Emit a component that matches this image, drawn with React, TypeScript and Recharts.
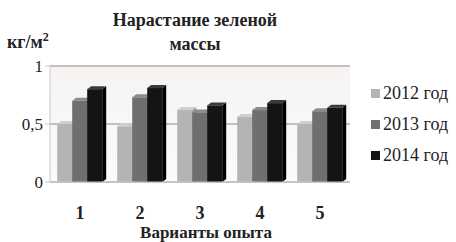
import React from "react"
import { Bar, BarChart, CartesianGrid, XAxis, YAxis } from "recharts"

const variants = ["1", "2", "3", "4", "5"]
const y2012 = [0.5, 0.48, 0.62, 0.56, 0.5]
const y2013 = [0.7, 0.73, 0.6, 0.62, 0.61]
const y2014 = [0.8, 0.81, 0.66, 0.68, 0.64]
const yTicks = [0, 0.5, 1]

const series = [
  { key: "y2012", name: "2012 год", fill: "#b4b4b4", side: "#9a9a9a", top: "#cfcfcf" },
  { key: "y2013", name: "2013 год", fill: "#6f6f6f", side: "#555555", top: "#8c8c8c" },
  { key: "y2014", name: "2014 год", fill: "#141414", side: "#000000", top: "#3a3a3a" },
]

const data = variants.map((v, i) => ({ v, y2012: y2012[i], y2013: y2013[i], y2014: y2014[i] }))

const serif = "'Liberation Serif', 'DejaVu Serif', serif"

function Bar3D(props: any) {
  const { x, y, width, height, fill, side, top } = props
  if (!height || height <= 0) return null
  const dx = 4
  const dy = 3
  return (
    <g>
      <path d={`M${x + width},${y} L${x + width + dx},${y - dy} L${x + width + dx},${y + height - dy} L${x + width},${y + height} Z`} fill={side} />
      <path d={`M${x},${y} L${x + dx},${y - dy} L${x + width + dx},${y - dy} L${x + width},${y} Z`} fill={top} />
      <rect x={x} y={y} width={width} height={height} fill={fill} />
    </g>
  )
}

export default function App() {
  return (
    <div style={{ position: "absolute", left: 0, top: 0, width: 456, height: 242, background: "#fff", fontFamily: serif }}>
      <div style={{ position: "absolute", left: 95, width: 200, top: 8, textAlign: "center", fontWeight: "bold", fontSize: 18, lineHeight: "24px", color: "#222" }}>
        Нарастание зеленой<br />массы
      </div>
      <div style={{ position: "absolute", left: 7, top: 30, fontWeight: "bold", fontSize: 18, color: "#222" }}>
        кг/м<sup style={{ fontSize: 12 }}>2</sup>
      </div>
      <div style={{ position: "absolute", left: 106, width: 200, top: 223, textAlign: "center", fontWeight: "bold", fontSize: 17, color: "#222" }}>
        Варианты опыта
      </div>
      <div style={{ position: "absolute", left: 371, top: 78, fontSize: 18, color: "#222" }}>
        {series.map((s) => (
          <div key={s.key} style={{ display: "flex", alignItems: "center", height: 31 }}>
            <span style={{ width: 9, height: 9, background: s.fill, display: "inline-block", marginRight: 3 }} />
            <span>{s.name}</span>
          </div>
        ))}
      </div>
      <BarChart
        width={456}
        height={242}
        data={data}
        margin={{ top: 66, right: 106, bottom: 30, left: 0 }}
        barCategoryGap="12%"
        barGap={0}
      >
        <defs>
          <linearGradient id="wall" x1="0" y1="0" x2="0" y2="1">
            <stop offset="0%" stopColor="#f6f3f3" />
            <stop offset="100%" stopColor="#fbfbfc" />
          </linearGradient>
        </defs>
        <CartesianGrid vertical={false} stroke="#b9aca6" strokeWidth={1.5} fill="url(#wall)" />
        <XAxis
          dataKey="v"
          tickLine={false}
          axisLine={{ stroke: "#c8c8c8" }}
          tick={{ fontFamily: serif, fontSize: 18, fontWeight: "bold", fill: "#222" }}
          tickMargin={18}
        />
        <YAxis
          width={50}
          domain={[0, 1]}
          ticks={yTicks}
          axisLine={{ stroke: "#c8c8c8" }}
          tickLine={{ stroke: "#c8c8c8" }}
          tickSize={5}
          tick={{ fontFamily: serif, fontSize: 17, fill: "#222" }}
          tickFormatter={(t) => String(t).replace(".", ",")}
        />
        {series.map((s) => (
          <Bar
            key={s.key}
            dataKey={s.key}
            name={s.name}
            fill={s.fill}
            isAnimationActive={false}
            shape={(p: any) => <Bar3D {...p} fill={s.fill} side={s.side} top={s.top} />}
          />
        ))}
      </BarChart>
    </div>
  )
}
